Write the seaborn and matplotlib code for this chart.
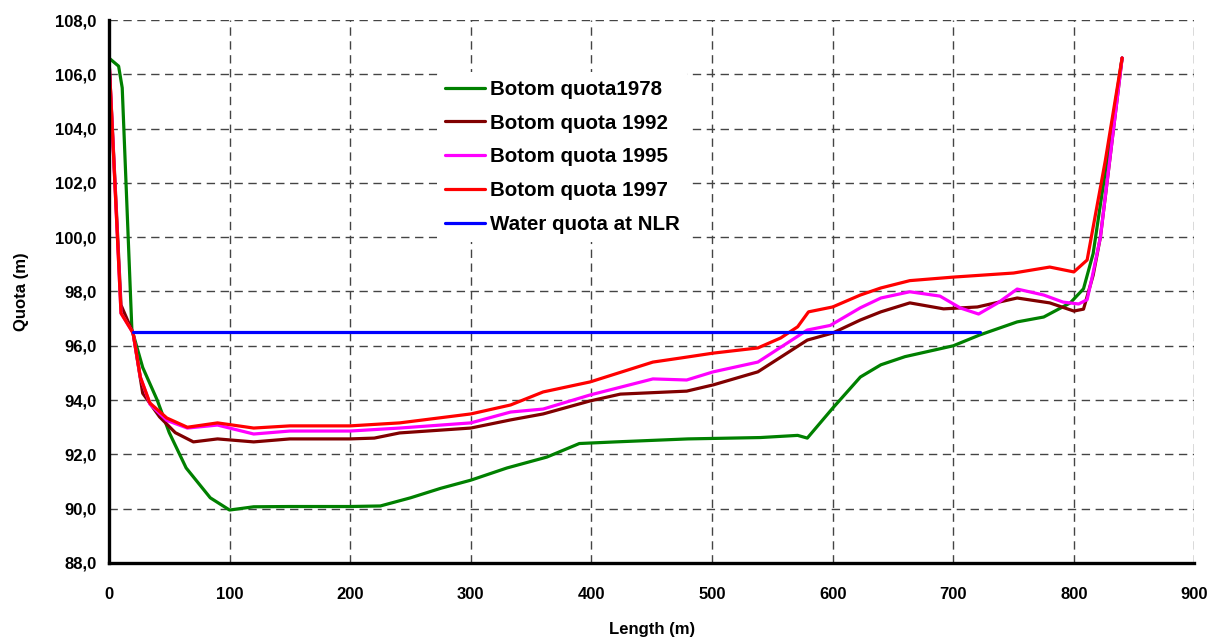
import matplotlib
matplotlib.use("Agg")
import matplotlib.pyplot as plt
import seaborn as sns

# === DATOS ===
length_1978 = [0, 8, 11, 19, 28, 40, 50, 64, 84, 100, 120, 150, 200, 225, 250, 275, 300, 330, 363,
               390, 420, 480, 540, 571, 579, 600, 623, 640, 660, 700, 722, 753, 775, 797, 808, 816, 828, 840]
quota_1978 = [106.6, 106.3, 105.5, 96.6, 95.2, 94.0, 92.8, 91.5, 90.4, 89.95, 90.07, 90.08, 90.08, 90.1, 90.4,
              90.75, 91.05, 91.5, 91.9, 92.4, 92.46, 92.57, 92.62, 92.7, 92.6, 93.7, 94.85, 95.3, 95.6, 96.0,
              96.4, 96.88, 97.06, 97.58, 98.1, 99.4, 103.0, 106.6]

length_1992 = [0, 10, 20, 28, 42, 55, 70, 90, 120, 150, 200, 220, 241, 300, 333, 360, 399, 424, 479, 501,
               538, 579, 600, 623, 640, 664, 692, 720, 753, 780, 800, 808, 816, 822, 840]
quota_1992 = [106.6, 97.5, 96.47, 94.25, 93.38, 92.8, 92.46, 92.57, 92.46, 92.57, 92.57, 92.6, 92.79, 92.97,
              93.27, 93.49, 93.97, 94.22, 94.33, 94.56, 95.04, 96.21, 96.47, 96.95, 97.25, 97.58, 97.36, 97.43,
              97.76, 97.58, 97.28, 97.35, 98.6, 100.0, 106.6]

length_1995 = [0, 10, 20, 26, 34, 48, 65, 90, 120, 150, 200, 241, 300, 333, 360, 399, 451, 479, 501, 538,
               579, 598, 623, 640, 664, 689, 706, 721, 737, 753, 775, 791, 804, 811, 815, 822, 840]
quota_1995 = [106.6, 97.2, 96.47, 94.85, 93.85, 93.25, 92.97, 93.08, 92.75, 92.86, 92.86, 92.97, 93.16, 93.56,
              93.67, 94.19, 94.78, 94.74, 95.04, 95.4, 96.58, 96.75, 97.4, 97.76, 97.99, 97.83, 97.39, 97.17,
              97.58, 98.09, 97.87, 97.61, 97.54, 97.7, 98.5, 100.0, 106.6]

length_1997 = [0, 10, 20, 26, 34, 48, 65, 90, 120, 150, 200, 241, 300, 333, 360, 399, 451, 474, 501, 538,
               557, 571, 580, 600, 623, 640, 664, 700, 750, 780, 800, 811, 826, 840]
quota_1997 = [106.6, 97.2, 96.47, 94.85, 93.89, 93.34, 93.0, 93.16, 92.97, 93.05, 93.05, 93.16, 93.49, 93.82,
              94.3, 94.67, 95.4, 95.55, 95.73, 95.92, 96.29, 96.7, 97.25, 97.43, 97.87, 98.13, 98.4, 98.53,
              98.68, 98.9, 98.72, 99.16, 102.8, 106.6]

length_water = [20, 722]
quota_water = [96.5, 96.5]

series = [
    ("Botom quota1978", length_1978, quota_1978, "#008000"),
    ("Botom quota 1992", length_1992, quota_1992, "#800000"),
    ("Botom quota 1995", length_1995, quota_1995, "#FF00FF"),
    ("Botom quota 1997", length_1997, quota_1997, "#FF0000"),
    ("Water quota at NLR", length_water, quota_water, "#0000FF"),
]

x_ticks = [0, 100, 200, 300, 400, 500, 600, 700, 800, 900]
y_ticks = [88, 90, 92, 94, 96, 98, 100, 102, 104, 106, 108]

# === ESTILO ===
sns.set_style("white")
plt.rcParams["font.family"] = ["Liberation Sans", "DejaVu Sans"]
plt.rcParams["font.weight"] = "bold"
for clave in ["text.color", "axes.labelcolor", "xtick.color", "ytick.color"]:
    plt.rcParams[clave] = "black"

fig = plt.figure(figsize=(12.16, 6.37), dpi=100)
ax = fig.add_axes([0.0896, 0.1162, 0.8927, 0.8524])

for nombre, xs, ys, color in series:
    sns.lineplot(x=xs, y=ys, ax=ax, color=color, label=nombre, linewidth=2.3, sort=False)

ax.set_xlim(0, 900)
ax.set_ylim(88, 108)
ax.set_xticks(x_ticks)
ax.set_yticks(y_ticks)
ax.set_xticklabels([str(v) for v in x_ticks], fontsize=12, fontweight="bold")
ax.set_yticklabels([f"{v:.1f}".replace(".", ",") for v in y_ticks], fontsize=12, fontweight="bold")

# grid discontinua
ax.grid(True, color="#444444", linestyle=(0, (6, 4)), linewidth=1.0)
ax.set_axisbelow(True)

for lado in ["top", "right"]:
    ax.spines[lado].set_visible(False)
for lado in ["left", "bottom"]:
    ax.spines[lado].set_linewidth(2.4)
    ax.spines[lado].set_color("black")

ax.tick_params(axis="y", direction="out", length=5, width=2, color="black", pad=4)
ax.tick_params(axis="x", direction="inout", length=6, width=1, color="black", pad=14)

ax.set_xlabel("Length (m)", fontsize=12, fontweight="bold", labelpad=15)
ax.set_ylabel("Quota (m)", fontsize=12, fontweight="bold", labelpad=19)

leg = ax.legend(loc="upper left", bbox_to_anchor=(0.302, 0.905), fontsize=14.8,
                frameon=True, facecolor="white", edgecolor="none", framealpha=1,
                handlelength=1.95, handletextpad=0.25, labelspacing=0.72, borderpad=0.4,
                borderaxespad=0)
for t in leg.get_texts():
    t.set_fontweight("bold")

fig.savefig("out.png", dpi=100)
